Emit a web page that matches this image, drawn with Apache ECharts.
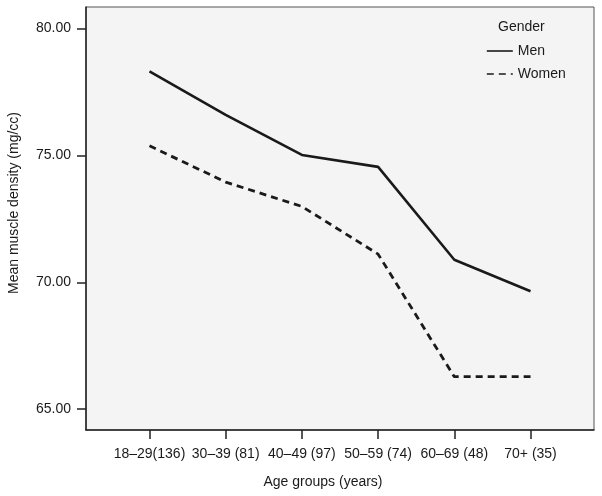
<!DOCTYPE html>
<html>
<head>
<meta charset="utf-8">
<script src="https://cdn.jsdelivr.net/npm/echarts@6/dist/echarts.min.js"></script>
<style>html,body{margin:0;padding:0;background:#fff}#c{width:602px;height:496px}</style>
</head>
<body>
<div id="c"></div>
<script>
var categories = ['18\u201329(136)', '30\u201339 (81)', '40\u201349 (97)', '50\u201359 (74)', '60\u201369 (48)', '70+ (35)'];
var menValues = [78.31, 76.60, 75.02, 74.55, 70.89, 69.65];
var womenValues = [75.38, 73.95, 72.99, 71.11, 66.28, 66.28];
var yTicks = [65, 70, 75, 80];

var idx = categories.map(function (c, i) { return i; });
function pairs(vals) { return vals.map(function (v, i) { return [i, v]; }); }

var FONT = 'Liberation Sans, Arial, sans-serif';
var chart = echarts.init(document.getElementById('c'), null, { renderer: 'canvas' });
chart.setOption({
  animation: false,
  backgroundColor: '#ffffff',
  grid: { left: 86, top: 7, right: 8, bottom: 66, show: true, backgroundColor: '#f4f4f4', borderColor: '#555', borderWidth: 1 },
  xAxis: {
    type: 'value', min: -0.833, max: 5.833,
    axisLine: { show: true, onZero: false, lineStyle: { color: '#222', width: 1.5 } },
    axisTick: { show: true, customValues: idx, length: 9, lineStyle: { color: '#222', width: 1.5 } },
    axisLabel: { customValues: idx, formatter: function (v) { return categories[Math.round(v)]; }, color: '#1a1a1a', fontSize: 14, fontFamily: FONT, margin: 17 },
    splitLine: { show: false }
  },
  yAxis: {
    type: 'value', min: 64.18, max: 80.85,
    axisLine: { show: true, onZero: false, lineStyle: { color: '#222', width: 1.5 } },
    axisTick: { show: true, customValues: yTicks, length: 9, lineStyle: { color: '#222', width: 1.5 } },
    axisLabel: { customValues: yTicks, formatter: function (v) { return v.toFixed(2); }, color: '#1a1a1a', fontSize: 14, fontFamily: FONT, margin: 15 },
    splitLine: { show: false }
  },
  legend: {
    orient: 'vertical', left: 481, top: 39, itemWidth: 26, itemHeight: 10, itemGap: 9,
    itemStyle: { opacity: 0, borderWidth: 0 },
    lineStyle: { width: 1.6 },
    textStyle: { color: '#1a1a1a', fontSize: 14, fontFamily: FONT },
    data: ['Men', 'Women']
  },
  graphic: [
    { type: 'text', left: 498, top: 20, style: { text: 'Gender', fill: '#1a1a1a', font: '14px ' + FONT } },
    { type: 'text', x: 323, y: 482, style: { text: 'Age groups (years)', fill: '#1a1a1a', font: '14px ' + FONT, align: 'center', verticalAlign: 'middle' } },
    { type: 'text', x: 14, y: 203, rotation: Math.PI / 2, style: { text: 'Mean muscle density (mg/cc)', fill: '#1a1a1a', font: '14px ' + FONT, align: 'center', verticalAlign: 'middle' } }
  ],
  series: [
    { name: 'Men', type: 'line', data: pairs(menValues), symbol: 'none', lineStyle: { color: '#1a1a1a', width: 2.6, type: 'solid' }, itemStyle: { color: '#1a1a1a' } },
    { name: 'Women', type: 'line', data: pairs(womenValues), symbol: 'none', lineStyle: { color: '#1a1a1a', width: 2.8, type: [7, 5] }, itemStyle: { color: '#1a1a1a' } }
  ]
});
</script>
</body>
</html>
